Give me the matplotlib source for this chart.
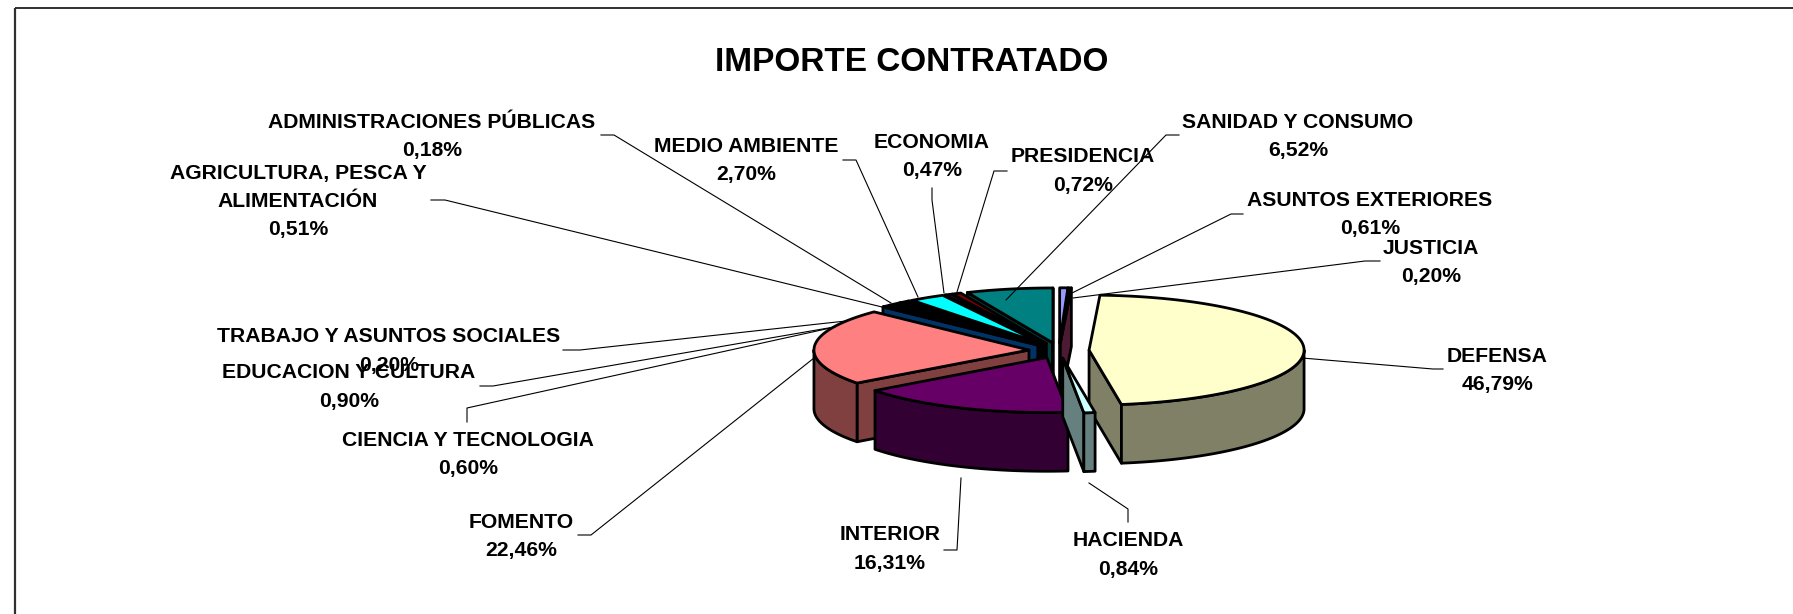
import matplotlib
matplotlib.use("Agg")
import matplotlib.pyplot as plt
import numpy as np
from matplotlib.patches import Polygon

# slices clockwise, starting from DEFENSA
names = [
    "DEFENSA", "HACIENDA", "INTERIOR", "FOMENTO", "CIENCIA Y TECNOLOGIA",
    "EDUCACION Y CULTURA", "TRABAJO Y ASUNTOS SOCIALES",
    "AGRICULTURA, PESCA Y\nALIMENTACIÓN", "ADMINISTRACIONES PÚBLICAS",
    "MEDIO AMBIENTE", "ECONOMIA", "PRESIDENCIA", "SANIDAD Y CONSUMO",
    "ASUNTOS EXTERIORES", "JUSTICIA",
]
values = [46.79, 0.84, 16.31, 22.46, 0.60, 0.90, 0.20, 0.51, 0.18, 2.70, 0.47, 0.72, 6.52, 0.61, 0.20]
colors = [
    "#FFFFCC", "#CCFFFF", "#660066", "#FF8080", "#0066CC", "#000000", "#000080",
    "#660066", "#000000", "#00FFFF", "#800080", "#800000", "#008080", "#9999FF", "#993366",
]

# label centre (x, y of first line)
label_pos = [
    (1497, 356), (1128, 541), (890, 535), (521, 522), (468, 440), (349, 373),
    (389, 337), (298, 173), (432, 122), (746, 146), (932, 142), (1083, 157),
    (1298, 122), (1370, 200), (1431, 248),
]
leaders = [
    [(1443, 369), (1433, 369), (1302, 358)],
    [(1128, 522), (1128, 509), (1089, 483)],
    [(944, 550), (957, 550), (961, 478)],
    [(578, 535), (591, 535), (814, 358)],
    [(467, 422), (467, 408), (835, 327)],
    [(480, 386), (493, 386), (834, 327)],
    [(563, 350), (580, 350), (846, 321)],
    [(431, 200), (445, 200), (882, 307)],
    [(601, 135), (614, 135), (891, 303)],
    [(843, 160), (856, 160), (918, 297)],
    [(932, 188), (932, 200), (944, 293)],
    [(1007, 171), (994, 171), (957, 292)],
    [(1179, 135), (1166, 135), (1006, 300)],
    [(1243, 214), (1231, 214), (1072, 293)],
    [(1380, 261), (1365, 261), (1073, 298)],
]

CX, CY = 1059, 350.5
RX, RY = 215, 55
DEPTH = 58.7
EXPLODE = 0.14
START = 2.9
EDGE = 2.0
LINE_GAP = 28.5
FONT = "Liberation Sans"


def rim(cx, cy, a0, a1):
    t = np.radians(np.linspace(a0, a1, max(2, int(abs(a1 - a0) * 2) + 2)))
    return np.column_stack([cx + RX * np.sin(t), cy - RY * np.cos(t)])


def add_poly(ax, pts, color):
    ax.add_patch(Polygon(pts, closed=True, facecolor=color, edgecolor="black", lw=EDGE, joinstyle="round"))


def draw_slice(ax, a0, a1, color):
    mid = np.radians((a0 + a1) / 2)
    cx = CX + EXPLODE * RX * np.sin(mid)
    cy = CY - EXPLODE * RY * np.cos(mid)
    side = tuple(np.array(matplotlib.colors.to_rgb(color)) * 0.5)
    down = np.array([0, DEPTH])
    apex = np.array([cx, cy])
    top = rim(cx, cy, a0, a1)

    # walls, only the ones facing the viewer
    if np.sin(np.radians(a0)) < 0:
        add_poly(ax, [apex, top[0], top[0] + down, apex + down], side)
    if np.sin(np.radians(a1)) > 0:
        add_poly(ax, [apex, top[-1], top[-1] + down, apex + down], side)
    # outer rim on the front half
    lo, hi = max(a0, 90), min(a1, 270)
    if hi > lo:
        front = rim(cx, cy, lo, hi)
        add_poly(ax, np.vstack([front, (front + down)[::-1]]), side)
    add_poly(ax, np.vstack([apex, top]), color)


fig = plt.figure(figsize=(17.93, 6.14), dpi=100)
ax = fig.add_axes([0, 0, 1, 1])
ax.set_xlim(0, 1793)
ax.set_ylim(614, 0)
ax.axis("off")

# chart frame, only the left and top sides are inside the crop
ax.plot([15, 1793], [8, 8], color="#202020", lw=1.3, solid_capstyle="butt")
ax.plot([15, 15], [7.5, 614], color="#303030", lw=1.6, solid_capstyle="butt")

ax.text(912, 62.5, "IMPORTE CONTRATADO", fontsize=24, fontweight="bold", family=FONT,
        ha="center", va="center")

edges = START + np.cumsum([0] + values) * 3.6
slices = list(zip(edges[:-1], edges[1:], colors))
# painter's order: back of the pie first
for a0, a1, c in sorted(slices, key=lambda s: -np.cos(np.radians((s[0] + s[1]) / 2))):
    draw_slice(ax, a0, a1, c)

for pts in leaders:
    xs, ys = zip(*pts)
    ax.plot(xs, ys, color="black", lw=0.8, zorder=5)

for name, val, (x, y) in zip(names, values, label_pos):
    lines = name.split("\n") + [f"{val:.2f}%".replace(".", ",")]
    for i, line in enumerate(lines):
        ax.text(x, y + i * LINE_GAP, line, fontsize=15.2, fontweight="bold", family=FONT,
                ha="center", va="center", zorder=6)

fig.savefig("out.png", dpi=100)
